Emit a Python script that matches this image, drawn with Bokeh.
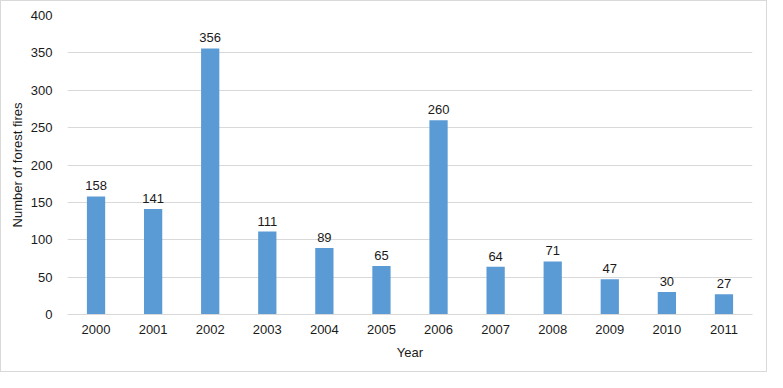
from bokeh.plotting import figure
from bokeh.models import ColumnDataSource, LabelSet, SingleIntervalTicker, FactorRange
from bokeh.core.properties import value
from bokeh.embed import file_html
from bokeh.resources import INLINE

years = ["2000", "2001", "2002", "2003", "2004", "2005", "2006", "2007", "2008", "2009", "2010", "2011"]
fires = [158, 141, 356, 111, 89, 65, 260, 64, 71, 47, 30, 27]
labels = [str(v) for v in fires]

src = ColumnDataSource(data=dict(year=years, fires=fires, label=labels))

FONT = "Liberation Sans"
GRID = "#D9D9D9"
TXT = "#1a1a1a"

p = figure(x_range=FactorRange(*years), y_range=(0, 400), width=767, height=372,
           output_backend="svg", toolbar_location=None,
           min_border_left=66, min_border_right=16, min_border_top=14, min_border_bottom=59)
p.styles = {"border": "1px solid #D9D9D9", "box-sizing": "border-box"}
p.outline_line_color = None

p.vbar(x="year", top="fires", width=0.32, source=src, color="#5B9BD5", line_color=None)

p.add_layout(LabelSet(x="year", y="fires", text="label", source=src, text_align="center",
                      text_baseline="bottom", y_offset=6, text_font=value(FONT),
                      text_font_size="13px", text_color=TXT))

p.yaxis.ticker = SingleIntervalTicker(interval=50)
p.yaxis.axis_line_color = None
p.yaxis.major_tick_line_color = None
p.yaxis.minor_tick_line_color = None
p.yaxis.major_label_text_font = FONT
p.yaxis.major_label_text_font_size = "13px"
p.yaxis.major_label_text_color = TXT
p.yaxis.major_label_standoff = 9
p.yaxis.axis_label = "Number of forest fires"
p.yaxis.axis_label_text_font = FONT
p.yaxis.axis_label_text_font_size = "13px"
p.yaxis.axis_label_text_font_style = "normal"
p.yaxis.axis_label_text_color = TXT
p.yaxis.axis_label_standoff = 3

p.xaxis.axis_line_color = GRID
p.xaxis.major_tick_line_color = None
p.xaxis.minor_tick_line_color = None
p.xaxis.major_label_text_font = FONT
p.xaxis.major_label_text_font_size = "13px"
p.xaxis.major_label_text_color = TXT
p.xaxis.major_label_standoff = 4
p.xaxis.axis_label = "Year"
p.xaxis.axis_label_text_font = FONT
p.xaxis.axis_label_text_font_size = "13px"
p.xaxis.axis_label_text_font_style = "normal"
p.xaxis.axis_label_text_color = TXT
p.xaxis.axis_label_standoff = 8

p.xgrid.grid_line_color = None
p.ygrid.grid_line_color = GRID

open("out.html", "w").write(file_html(p, INLINE))
